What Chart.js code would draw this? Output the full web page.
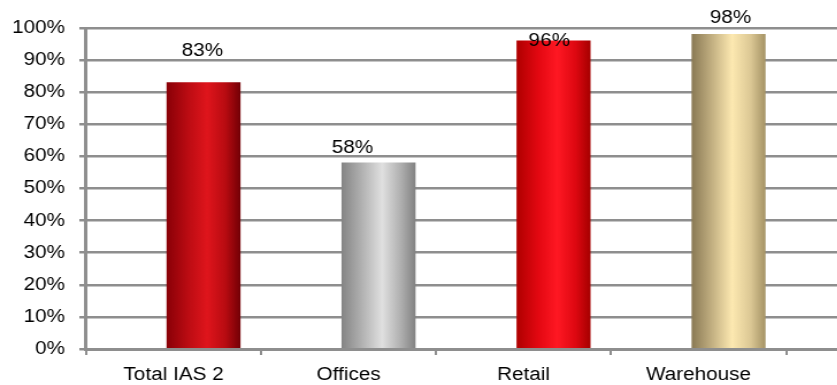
<!DOCTYPE html>
<html>
<head>
<meta charset="utf-8">
<title>Occupancy by sector</title>
<script src="https://cdn.jsdelivr.net/npm/chart.js@4.4.1/dist/chart.umd.min.js"></script>
<style>
  html, body { margin: 0; padding: 0; background: #fff; overflow: hidden; }
  /* the whole chart is drawn narrow and widened, so the text comes out broad */
  #wrap { width: 840px; height: 385px; transform: scaleX(1.15); transform-origin: 0 0; }
</style>
</head>
<body>
<div id="wrap"><canvas id="occupancy" width="840" height="385"></canvas></div>
<script>
const categories = ['Total IAS 2', 'Offices', 'Retail', 'Warehouse']
const occupancy = [83, 58, 96, 98]
const yTickValues = [0, 10, 20, 30, 40, 50, 60, 70, 80, 90, 100]

// left edge -> highlight -> right edge, one set per bar
const barShades = [
  ['#8a0007', '#bd0c13', '#df151c', '#b80b11', '#740006'],
  ['#858585', '#b6b6b6', '#e0e0e0', '#b0b0b0', '#838383'],
  ['#b00000', '#e40812', '#ff1823', '#de0811', '#a60000'],
  ['#8a7a55', '#c8b586', '#fde9b1', '#dcc895', '#a69466']
]
const shadeStops = [0, 0.3, 0.55, 0.8, 1]

const FONT = "'Liberation Sans', Arial, sans-serif"
const GRID = '#8e8e8e'
const BAR_W = 63.7

// bars sit a little right of the category centres
const barShift = 30 / 175

function cylinder(ctx) {
  if (ctx.type !== 'data') return barShades[0][2]
  const shades = barShades[ctx.dataIndex]
  const xb = ctx.chart.scales.xb
  const cx = xb && ctx.parsed ? xb.getPixelForValue(ctx.parsed.x) : NaN
  if (!isFinite(cx)) return shades[2]
  const g = ctx.chart.ctx.createLinearGradient(cx - BAR_W / 2, 0, cx + BAR_W / 2, 0)
  shades.forEach((c, i) => g.addColorStop(shadeStops[i], c))
  return g
}

// value text above each bar, nudged by hand
const valueLabels = {
  id: 'valueLabels',
  afterDatasetsDraw(chart, args, opts) {
    const {ctx} = chart
    const meta = chart.getDatasetMeta(0)
    ctx.save()
    ctx.font = '18px ' + FONT
    ctx.fillStyle = '#000'
    ctx.textAlign = 'center'
    ctx.textBaseline = 'alphabetic'
    meta.data.forEach((bar, i) => {
      const [dx, lift] = opts.nudge[i]
      ctx.fillText(occupancy[i] + '%', bar.x + dx, bar.y - lift)
    })
    ctx.restore()
  }
}

Chart.defaults.font.family = FONT
Chart.defaults.font.size = 18
Chart.defaults.color = '#000'

new Chart(document.getElementById('occupancy'), {
  type: 'bar',
  data: {
    labels: [...categories, ''],
    datasets: [{
      data: occupancy.map((v, i) => ({x: i, y: v})),
      xAxisID: 'xb',
      barThickness: BAR_W,
      backgroundColor: cylinder,
      borderWidth: 0
    }]
  },
  options: {
    responsive: false,
    animation: false,
    events: [],
    layout: { padding: { top: 28, left: 10.5, right: 4.3, bottom: 0 } },
    plugins: {
      legend: { display: false },
      tooltip: { enabled: false },
      valueLabels: { nudge: [[-1, 27], [-22.6, 9.5], [-3.7, -5.5], [1.7, 11.5]] }
    },
    scales: {
      x: {
        type: 'category',
        offset: true,
        afterFit: s => { s.height = 36 },
        grid: { offset: true, drawOnChartArea: false, color: GRID, lineWidth: 2, tickLength: 6 },
        border: { color: GRID, width: 3 },
        ticks: { padding: 9, maxRotation: 0, autoSkip: false }
      },
      xb: {
        type: 'linear',
        display: false,
        offset: false,
        min: -0.5 - barShift,
        max: categories.length + 0.5 - barShift
      },
      y: {
        min: 0,
        max: 100,
        afterFit: s => { s.width = 64.3 },
        afterBuildTicks: s => { s.ticks = yTickValues.map(v => ({value: v})) },
        grid: { color: GRID, lineWidth: 2.5, tickLength: 5.8 },
        border: { color: GRID, width: 3 },
        ticks: { padding: 12.5, callback: v => v + '%' }
      }
    }
  },
  plugins: [valueLabels]
})
</script>
</body>
</html>
